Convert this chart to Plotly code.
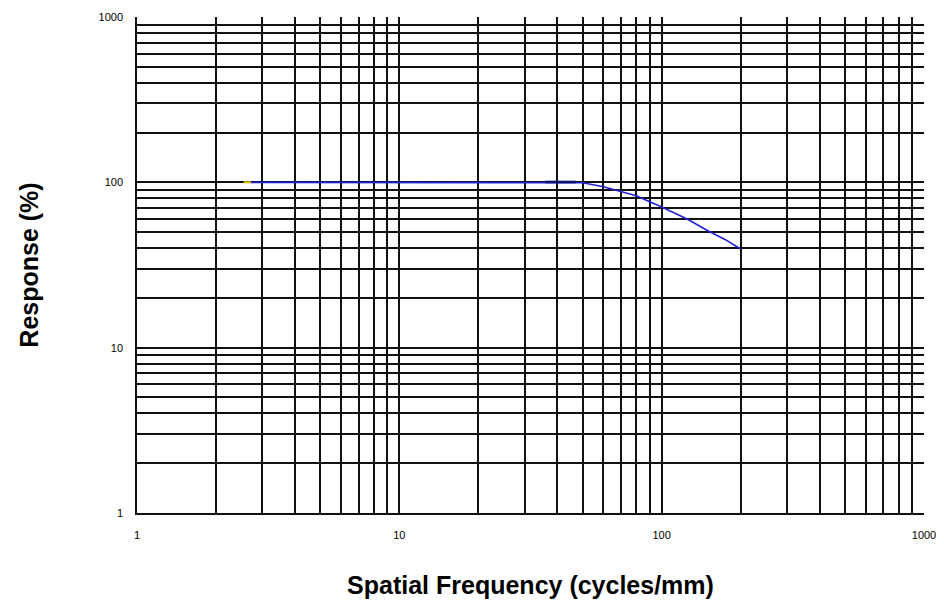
import plotly.graph_objects as go

# Spatial frequency response (MTF) curve
freq = [2.7, 5, 10, 20, 30, 40, 50, 60, 70, 80, 100, 125, 150, 175, 200]
response = [100, 100, 100, 100, 100, 100, 99.5, 94, 88, 83, 71, 60, 51, 45, 39.5]

# short overlay segments drawn on the same curve
start_freq = [2.55, 2.72]
start_resp = [100, 100]
mid_freq = [36, 47]
mid_resp = [100.5, 100.5]

decades = [1, 10, 100, 1000]
decade_labels = ["1", "10", "100", "1000"]
minor_vals = [m * d for d in [1, 10, 100] for m in range(2, 10)]

fig = go.Figure()
fig.add_trace(go.Scatter(x=freq, y=response, mode="lines",
                         line=dict(color="#2020d0", width=1.6), showlegend=False))
fig.add_trace(go.Scatter(x=start_freq, y=start_resp, mode="lines",
                         line=dict(color="#e8c000", width=2), showlegend=False))
fig.add_trace(go.Scatter(x=mid_freq, y=mid_resp, mode="lines",
                         line=dict(color="#101070", width=2.6), showlegend=False))

axis_common = dict(
    type="log",
    tickvals=decades,
    ticktext=decade_labels,
    showgrid=True,
    gridcolor="#111111",
    gridwidth=1.5,
    zeroline=False,
    showline=True,
    linecolor="#111111",
    linewidth=1.5,
    ticks="",
    automargin=False,
    tickfont=dict(family="Liberation Sans, Arial", size=11, color="#000000"),
    minor=dict(tickvals=minor_vals, showgrid=True, gridcolor="#111111",
               gridwidth=1.5, ticks=""),
)

title_font = dict(family="Liberation Sans, Arial", size=25, color="#000000")

fig.update_layout(
    width=944, height=602,
    margin=dict(l=137, r=20, t=17, b=89),
    paper_bgcolor="white", plot_bgcolor="white",
    xaxis=dict(axis_common, range=[0, 3], ticklabelstandoff=11,
               title=dict(text="<b>Spatial Frequency (cycles/mm)</b>", standoff=37,
                          font=title_font)),
    yaxis=dict(axis_common, range=[0, 3], ticklabelstandoff=10,
               title=dict(text="<b>Response (%)</b>", standoff=53,
                          font=title_font)),
)

fig.write_html("out.html")
